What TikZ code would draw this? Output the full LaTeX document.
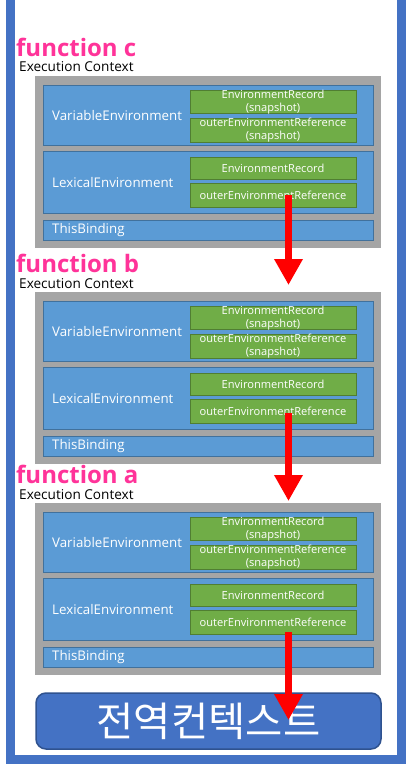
\documentclass[tikz,border=0pt]{standalone}
\usepackage{fontspec}
\setmainfont{Open Sans}
\newfontfamily\krfont{Noto Sans CJK KR}
\usetikzlibrary{arrows.meta}
\definecolor{frameblue}{HTML}{4472C4}
\definecolor{darkblue}{HTML}{2F528F}
\definecolor{boxblue}{HTML}{5B9BD5}
\definecolor{boxedge}{HTML}{41719C}
\definecolor{ecgray}{HTML}{A5A5A5}
\definecolor{grn}{HTML}{70AD47}
\definecolor{grnedge}{HTML}{507E32}
\definecolor{fnpink}{HTML}{FF3399}
\definecolor{arrowred}{HTML}{FF0000}
\tikzset{
  graybox/.style={draw=none, fill=ecgray, minimum width=346pt, minimum height=172pt, inner sep=0pt},
  bluebox/.style={draw=boxedge, line width=0.8pt, fill=boxblue, minimum width=330pt, inner sep=0pt},
  greenbox/.style={draw=grnedge, line width=0.8pt, fill=grn, minimum width=166pt, inner sep=0pt},
  bluetxt/.style={text=white, font=\fontsize{13.3}{15}\selectfont, inner sep=0pt, anchor=west},
  greentxt/.style={text=white, font=\fontsize{11.1}{13}\selectfont, inner sep=0pt, align=center},
  fnlabel/.style={text=fnpink, font=\bfseries\fontsize{24}{27}\selectfont, inner sep=0pt, anchor=base west},
  eclabel/.style={text=black, font=\fontsize{13.6}{15}\selectfont, inner sep=0pt, anchor=base west},
  redarrow/.style={draw=arrowred, line width=6.5pt, -{Triangle[width=27pt,length=26pt]}},
}
\newcommand\ctxblock[3]{%
  \begin{scope}[shift={(0,#1)}]
    \node[fnlabel] (fn#2) at (16,56.5) {function #3};
    \node[eclabel] (ec#2) at (19,72) {Execution Context};
    \node[graybox] (gray#2) at (208,162) {};
    \node[bluebox, minimum height=60pt] (ve#2) at (208,115) {};
    \node[bluetxt] (vet#2) at (52,116) {VariableEnvironment};
    \node[greenbox, minimum height=23pt] (ver#2) at (273,101.5) {};
    \node[greentxt] (vert#2) at (273,102) {EnvironmentRecord\\(snapshot)};
    \node[greenbox, minimum height=24pt] (veo#2) at (273,130) {};
    \node[greentxt] (veot#2) at (273,130.5) {outerEnvironmentReference\\(snapshot)};
    \node[bluebox, minimum height=62pt] (le#2) at (208,182) {};
    \node[bluetxt] (let#2) at (52,183) {LexicalEnvironment};
    \node[greenbox, minimum height=22pt] (ler#2) at (273,168) {};
    \node[greentxt] (lert#2) at (273,168) {EnvironmentRecord};
    \node[greenbox, minimum height=24pt] (leo#2) at (273,195) {};
    \node[greentxt] (leot#2) at (273,195) {outerEnvironmentReference};
    \node[bluebox, minimum height=20pt] (tb#2) at (208,230) {};
    \node[bluetxt] (tbt#2) at (52,230.5) {ThisBinding};
  \end{scope}%
}
\begin{document}
\begin{tikzpicture}[x=1pt, y=-1pt]
  \useasboundingbox (0,0) rectangle (407,767);
  \fill[white] (0,0) rectangle (407,767);
  \draw[frameblue, line width=9pt, line join=miter] (10.5,0) -- (10.5,759.5) -- (401.5,759.5) -- (401.5,0);
  \ctxblock{0}{c}{c}
  \ctxblock{216}{b}{b}
  \ctxblock{427}{a}{a}
  \node[draw=darkblue, line width=1.5pt, fill=frameblue, rounded corners=10pt,
        minimum width=345pt, minimum height=56pt, inner sep=0pt,
        text=white, font=\krfont\fontsize{40.5}{44}\selectfont] (global) at (208.5,721) {전역컨텍스트};
  \coordinate (s1) at (288.5,195);
  \coordinate (e1) at (288.5,285);
  \coordinate (s2) at (288.5,413);
  \coordinate (e2) at (288.5,501);
  \coordinate (s3) at (288.5,632);
  \coordinate (e3) at (288.5,720);
  \draw[redarrow] (s1) -- (e1);
  \draw[redarrow] (s2) -- (e2);
  \draw[redarrow] (s3) -- (e3);
\end{tikzpicture}
\end{document}
